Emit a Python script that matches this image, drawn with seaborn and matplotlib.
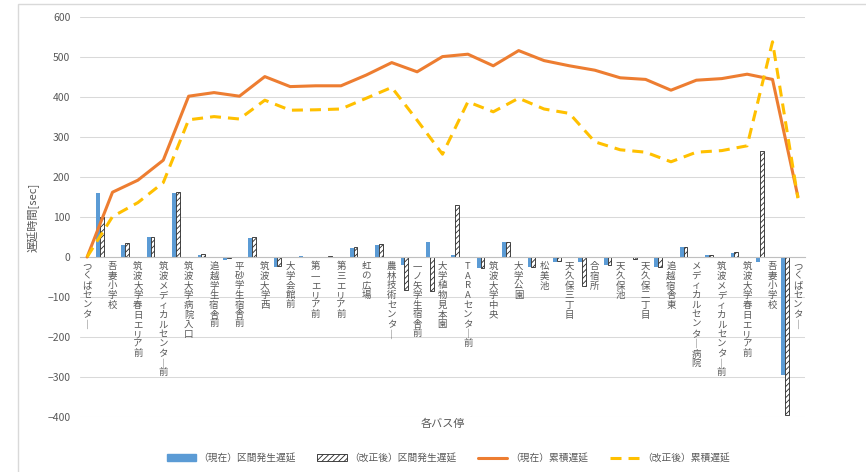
import numpy as np
import pandas as pd
import matplotlib
matplotlib.use("Agg")
import matplotlib.pyplot as plt
import seaborn as sns
from matplotlib.patches import Patch, Rectangle
from matplotlib.lines import Line2D

# Bus stops along the route (round trip)
stops = ["つくばセンター", "吾妻小学校", "筑波大学春日エリア前", "筑波メディカルセンター前",
         "筑波大学病院入口", "追越学生宿舎前", "平砂学生宿舎前", "筑波大学西", "大学会館前",
         "第一エリア前", "第三エリア前", "虹の広場", "農林技術センター", "一ノ矢学生宿舎前",
         "大学植物見本園", "TARAセンター前", "筑波大学中央", "大学公園", "松美池",
         "天久保三丁目", "合宿所", "天久保池", "天久保二丁目", "追越宿舎東",
         "メディカルセンター病院", "筑波メディカルセンター前", "筑波大学春日エリア前",
         "吾妻小学校", "つくばセンター"]

# Delay produced in each section (previous stop -> this stop), seconds
section_now = [161, 30, 49, 160, 6, -7, 48, -24, 2, 1, 23, 31, -20, 37, 4, -28,
               37, -25, -12, -12, -20, -3, -25, 24, 4, 11, -12, -295]
section_new = [101, 35, 50, 162, 8, -3, 50, -22, 1, 2, 26, 32, -82, -85, 130, -28,
               38, -25, -11, -72, -20, -5, -25, 24, 4, 12, 265, -395]

# Accumulated delay at each stop, seconds
cum_now = [0, 162, 192, 242, 402, 411, 402, 451, 426, 428, 428, 455, 486, 463, 501,
           507, 478, 516, 491, 478, 467, 448, 444, 417, 442, 446, 457, 444, 151]
cum_new = [0, 101, 136, 186, 343, 351, 345, 392, 367, 368, 370, 397, 424, 342, 257,
           388, 363, 397, 370, 359, 288, 268, 262, 238, 262, 266, 278, 538, 147]

y_ticks = list(range(-400, 601, 100))

legend_labels = ["（現在）区間発生遅延", "（改正後）区間発生遅延", "（現在）累積遅延", "（改正後）累積遅延"]

BLUE = "#5B9BD5"
ORANGE = "#ED7D31"
YELLOW = "#FFC000"
TEXT = "#595959"
GRID = "#D9D9D9"

sns.set_theme(style="white")
plt.rcParams["font.family"] = ["Noto Sans CJK JP", "DejaVu Sans"]
plt.rcParams["hatch.linewidth"] = 0.6

W, H = 866, 472
fig = plt.figure(figsize=(W / 100, H / 100), dpi=100)
ax = fig.add_axes([80 / W, 1 - 417 / H, (805 - 80) / W, (417 - 17) / H])

n = len(stops)
idx = np.arange(n)
sec_pos = idx[1:] - 0.5  # sections sit between consecutive stops
bw = 0.15

df_sec = pd.DataFrame({
    "pos_now": sec_pos - bw / 2,
    "pos_new": sec_pos + bw / 2,
    "now": section_now,
    "new": section_new,
})

sns.barplot(data=df_sec, x="pos_now", y="now", native_scale=True, width=bw,
            color=BLUE, saturation=1, errorbar=None, ax=ax, linewidth=0, zorder=2)
n_before = len(ax.patches)
sns.barplot(data=df_sec, x="pos_new", y="new", native_scale=True, width=bw,
            color="white", saturation=1, errorbar=None, ax=ax, zorder=2)
for p in ax.patches[n_before:]:
    p.set_facecolor("white")
    p.set_edgecolor("#262626")
    p.set_hatch("//////")
    p.set_linewidth(0.6)

df_cum = pd.DataFrame({"pos": idx, "now": cum_now, "new": cum_new})
sns.lineplot(data=df_cum, x="pos", y="now", color=ORANGE, linewidth=2.2, ax=ax, zorder=3)
sns.lineplot(data=df_cum, x="pos", y="new", color=YELLOW, linewidth=2.2, ax=ax, zorder=3)
ax.lines[-1].set_dashes((3.6, 2.3))

ax.set_xlim(-0.28, n - 1 + 0.28)
ax.set_ylim(-400, 600)
ax.set_yticks(y_ticks)
ax.yaxis.grid(True, color=GRID, linewidth=0.75)
ax.set_axisbelow(True)


def vertical(s):
    return "\n".join("｜" if ch == "ー" else ch for ch in s)


# stop names written vertically, hanging just below the zero line
ax.set_xticks(idx)
ax.set_xticklabels([])
for i, s in zip(idx, stops):
    ax.annotate(vertical(s), xy=(i, 0), xycoords="data", xytext=(0, -3.5),
                textcoords="offset points", ha="center", va="top",
                fontsize=6.8, color=TEXT, linespacing=1.1, zorder=4)
ax.tick_params(axis="x", length=0)
ax.tick_params(axis="y", length=0, pad=7, labelsize=7.5, labelcolor=TEXT)

for side in ["top", "right", "left"]:
    ax.spines[side].set_visible(False)
ax.spines["bottom"].set_position(("data", 0))
ax.spines["bottom"].set_color("#BFBFBF")
ax.spines["bottom"].set_linewidth(0.8)

ax.set_xlabel("各バス停", fontsize=8, color=TEXT)
ax.xaxis.set_label_coords(0.5, -0.005)
ax.set_ylabel("遅延時間[sec]", fontsize=8, color=TEXT)
ax.yaxis.set_label_coords(-40 / 725, 0.5)

handles = [
    Patch(facecolor=BLUE, edgecolor=BLUE),
    Patch(facecolor="white", edgecolor="#262626", hatch="//////", linewidth=0.6),
    Line2D([0], [0], color=ORANGE, linewidth=2.2),
    Line2D([0], [0], color=YELLOW, linewidth=2.2, dashes=(3.6, 2.3)),
]
fig.legend(handles, legend_labels, loc="center", bbox_to_anchor=(448 / W, 1 - 458 / H),
           ncol=4, frameon=False, fontsize=7, handlelength=3.0, handleheight=0.6,
           handletextpad=0.3, columnspacing=2.2, labelcolor=TEXT)

# light outer frame of the chart area
fig.add_artist(Rectangle((18 / W, -0.2), 2, 1.2 - 4 / H, transform=fig.transFigure,
                         fill=False, edgecolor=GRID, linewidth=1.0))

fig.savefig("out.png", dpi=100)
